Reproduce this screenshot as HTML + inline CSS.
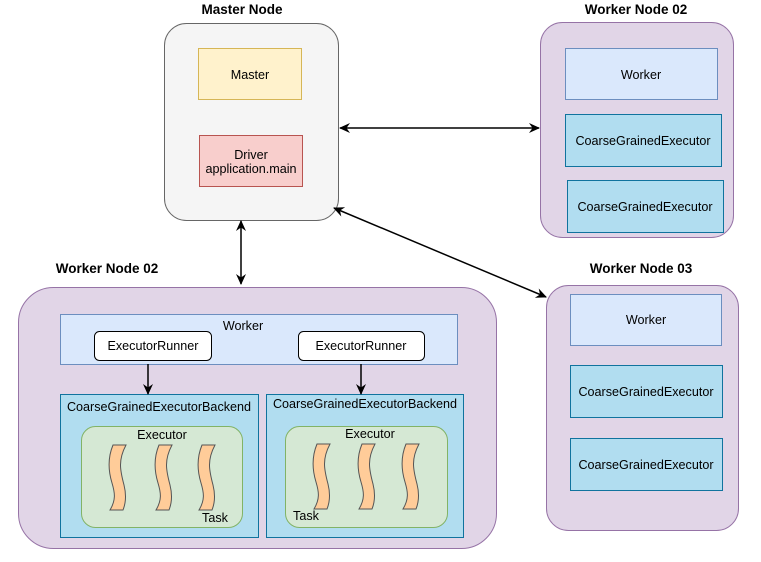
<!DOCTYPE html>
<html><head><meta charset="utf-8"><style>
body{margin:0;background:#fff;}
svg text{font-family:"Liberation Sans",Arial,sans-serif;font-size:12.6px;fill:#000;}
</style></head><body>
<svg width="761" height="557" xmlns="http://www.w3.org/2000/svg">
<defs>
<marker id="a" markerWidth="12" markerHeight="12" refX="10" refY="6" orient="auto-start-reverse" markerUnits="userSpaceOnUse"><path d="M0,1 L11,6 L0,11 L3.5,6z" fill="#000"/></marker>
<path id="t" d="M2,0 L15,0 C7,15 9,25 13,40 C16,52 14,60 12,65 L-1,65 C5,55 4,48 1,38 C-3,25 -3,12 2,0z" fill="#ffcc99" stroke="#555" stroke-width="1"/>
</defs>
<text x="242" y="14" text-anchor="middle" font-weight="bold" style="font-size:13.5px">Master Node</text>
<rect x="164.5" y="23.5" width="174" height="197" rx="22" fill="#f5f5f5" stroke="#666"/>
<rect x="198.5" y="48.5" width="103" height="51" fill="#fff2cc" stroke="#d6b656"/>
<text x="250" y="79" text-anchor="middle">Master</text>
<rect x="199.5" y="135.5" width="103" height="51" fill="#f8cecc" stroke="#b85450"/>
<text x="251" y="159" text-anchor="middle">Driver</text>
<text x="251" y="173" text-anchor="middle">application.main</text>
<text x="636" y="14" text-anchor="middle" font-weight="bold" style="font-size:13.5px">Worker Node 02</text>
<rect x="540.5" y="22.5" width="193" height="215" rx="22" fill="#e1d5e7" stroke="#9673a6"/>
<rect x="565.5" y="48.5" width="152" height="51" fill="#dae8fc" stroke="#6c8ebf"/>
<text x="641" y="79" text-anchor="middle">Worker</text>
<rect x="565.5" y="114.5" width="156" height="52" fill="#b1ddf0" stroke="#10739e"/>
<text x="643" y="145" text-anchor="middle">CoarseGrainedExecutor</text>
<rect x="567.5" y="180.5" width="156" height="52" fill="#b1ddf0" stroke="#10739e"/>
<text x="645" y="211" text-anchor="middle">CoarseGrainedExecutor</text>
<text x="641" y="273" text-anchor="middle" font-weight="bold" style="font-size:13.5px">Worker Node 03</text>
<rect x="546.5" y="285.5" width="192" height="245" rx="22" fill="#e1d5e7" stroke="#9673a6"/>
<rect x="570.5" y="294.5" width="151" height="51" fill="#dae8fc" stroke="#6c8ebf"/>
<text x="646" y="324" text-anchor="middle">Worker</text>
<rect x="570.5" y="365.5" width="152" height="52" fill="#b1ddf0" stroke="#10739e"/>
<text x="646" y="396" text-anchor="middle">CoarseGrainedExecutor</text>
<rect x="570.5" y="438.5" width="152" height="52" fill="#b1ddf0" stroke="#10739e"/>
<text x="646" y="469" text-anchor="middle">CoarseGrainedExecutor</text>
<text x="107" y="273" text-anchor="middle" font-weight="bold" style="font-size:13.5px">Worker Node 02</text>
<rect x="18.5" y="287.5" width="478" height="261" rx="35" fill="#e1d5e7" stroke="#9673a6"/>
<rect x="60.5" y="314.5" width="397" height="50" fill="#dae8fc" stroke="#6c8ebf"/>
<text x="243" y="330" text-anchor="middle">Worker</text>
<rect x="94.5" y="331.5" width="117" height="29" rx="5" fill="#fff" stroke="#000"/>
<text x="153" y="350" text-anchor="middle">ExecutorRunner</text>
<rect x="298.5" y="331.5" width="126" height="29" rx="5" fill="#fff" stroke="#000"/>
<text x="361" y="350" text-anchor="middle">ExecutorRunner</text>
<rect x="60.5" y="394.5" width="198" height="143" fill="#b1ddf0" stroke="#10739e"/>
<text x="159" y="411" text-anchor="middle">CoarseGrainedExecutorBackend</text>
<rect x="266.5" y="394.5" width="197" height="143" fill="#b1ddf0" stroke="#10739e"/>
<text x="365" y="408" text-anchor="middle">CoarseGrainedExecutorBackend</text>
<rect x="81.5" y="426.5" width="161" height="101" rx="14" fill="#d5e8d4" stroke="#82b366"/>
<text x="162" y="439" text-anchor="middle">Executor</text>
<rect x="285.5" y="426.5" width="162" height="101" rx="14" fill="#d5e8d4" stroke="#82b366"/>
<text x="370" y="438" text-anchor="middle">Executor</text>
<use href="#t" x="111" y="445"/><use href="#t" x="157" y="445"/><use href="#t" x="200" y="445"/>
<use href="#t" x="315" y="444"/><use href="#t" x="360" y="444"/><use href="#t" x="404" y="444"/>
<text x="215" y="522" text-anchor="middle">Task</text>
<text x="306" y="520" text-anchor="middle">Task</text>
<g stroke="#000" stroke-width="1.5" fill="none">
<line x1="340" y1="128" x2="539" y2="128" marker-start="url(#a)" marker-end="url(#a)"/>
<line x1="241" y1="221" x2="241" y2="284" marker-start="url(#a)" marker-end="url(#a)"/>
<line x1="334" y1="208" x2="546" y2="297" marker-start="url(#a)" marker-end="url(#a)"/>
<line x1="148" y1="364" x2="148" y2="394" marker-end="url(#a)"/>
<line x1="361" y1="364" x2="361" y2="394" marker-end="url(#a)"/>
</g>
</svg>
</body></html>
